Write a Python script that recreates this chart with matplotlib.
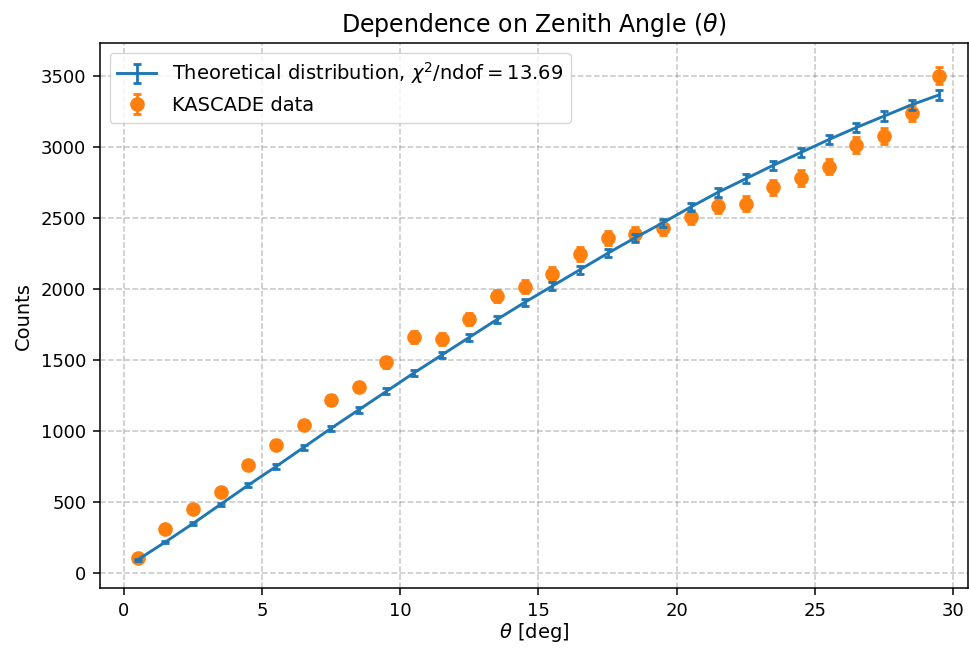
import matplotlib
matplotlib.use("Agg")
import matplotlib.pyplot as plt
import numpy as np

# Centros dos bins de ângulo zenital (graus)
theta = [0.5, 1.5, 2.5, 3.5, 4.5, 5.5, 6.5, 7.5, 8.5, 9.5,
         10.5, 11.5, 12.5, 13.5, 14.5, 15.5, 16.5, 17.5, 18.5, 19.5,
         20.5, 21.5, 22.5, 23.5, 24.5, 25.5, 26.5, 27.5, 28.5, 29.5]

# Distribuição teórica
teorico = [95, 220, 350, 485, 620, 750, 885, 1020, 1150, 1280,
           1410, 1535, 1660, 1785, 1905, 2020, 2135, 2250, 2360, 2465,
           2575, 2680, 2775, 2870, 2960, 3050, 3135, 3215, 3295, 3365]
erro_teorico = [6, 9, 11, 13, 15, 16, 18, 19, 20, 21,
                22, 23, 24, 25, 26, 27, 28, 28, 29, 30,
                30, 31, 32, 32, 33, 33, 34, 34, 35, 35]

# Dados do KASCADE
kascade = [105, 315, 450, 570, 765, 905, 1045, 1220, 1310, 1485,
           1660, 1650, 1790, 1950, 2015, 2105, 2245, 2360, 2385, 2430,
           2505, 2585, 2600, 2715, 2780, 2860, 3010, 3075, 3235, 3500]
erro_kascade = [10, 18, 21, 24, 28, 30, 32, 35, 36, 39,
                41, 41, 42, 44, 45, 46, 47, 49, 49, 49,
                50, 51, 51, 52, 53, 53, 55, 55, 57, 59]

chi2_ndof = 13.69

fig = plt.figure(figsize=(9.69, 6.5), dpi=100)
ax = fig.add_axes([0.103, 0.095, 0.896, 0.839])

ax.errorbar(theta, teorico, yerr=erro_teorico,
            color="tab:blue", linewidth=2.1, capsize=3, capthick=2,
            elinewidth=2,
            label=r"Theoretical distribution, $\chi^2$/ndof$ = %.2f$" % chi2_ndof,
            zorder=3)
ax.errorbar(theta, kascade, yerr=erro_kascade,
            fmt="o", color="tab:orange", markersize=9.5, capsize=3,
            elinewidth=2, capthick=2, label="KASCADE data", zorder=2)

ax.set_xlim(-0.87, 30.54)
ax.set_ylim(-105, 3730)
ax.set_xticks([0, 5, 10, 15, 20, 25, 30])
ax.tick_params(labelsize=13, length=4.9, width=1.1, pad=4.9)
for sp in ax.spines.values():
    sp.set_linewidth(1.1)
ax.grid(True, linestyle="--", color="gray", alpha=0.45, linewidth=1.1)
ax.set_title(r"Dependence on Zenith Angle ($\theta$)", fontsize=17, pad=8)
ax.set_xlabel(r"$\theta$ [deg]", fontsize=14, labelpad=1)
ax.set_ylabel("Counts", fontsize=14, labelpad=5.6)
ax.legend(loc="upper left", fontsize=14)

fig.savefig("out.png", dpi=100)
plt.close()
